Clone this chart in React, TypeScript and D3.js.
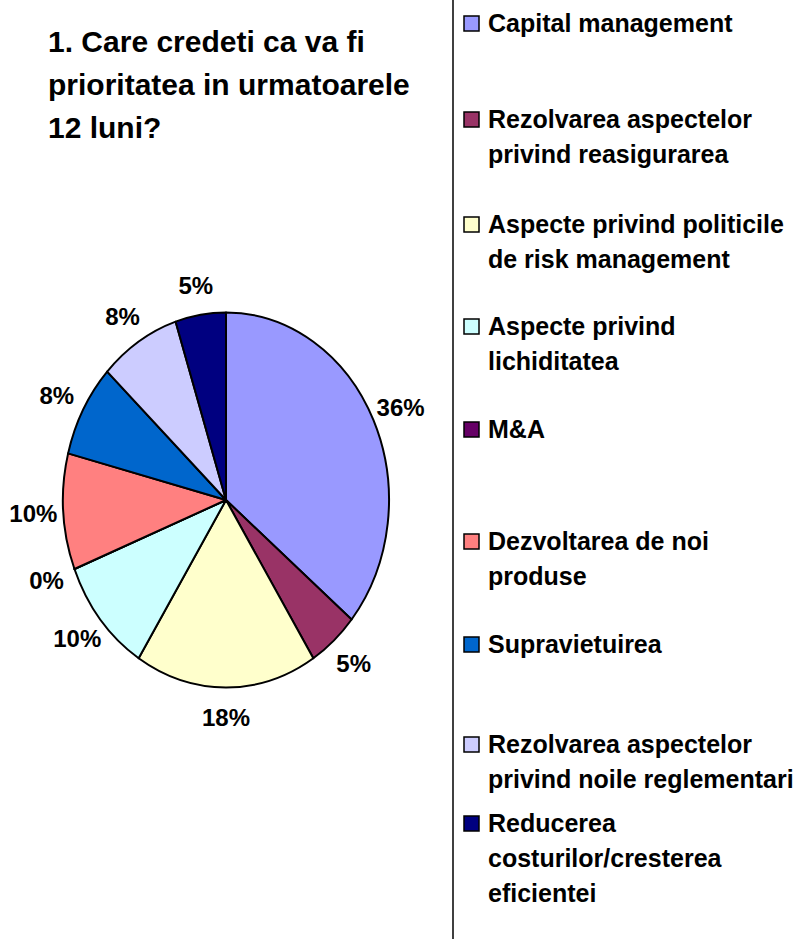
import React from "react";
import * as d3 from "d3";

const categories: string[][] = [
  ["Capital management"],
  ["Rezolvarea aspectelor", "privind reasigurarea"],
  ["Aspecte privind politicile", "de risk management"],
  ["Aspecte privind", "lichiditatea"],
  ["M&A"],
  ["Dezvoltarea de noi", "produse"],
  ["Supravietuirea"],
  ["Rezolvarea aspectelor", "privind noile reglementari"],
  ["Reducerea", "costurilor/cresterea", "eficientei"],
];
const values: number[] = [36, 5, 18, 10, 0, 10, 8, 8, 5];
const colors: string[] = [
  "#9999FF", "#993366", "#FFFFCC", "#CCFFFF", "#660066",
  "#FF8080", "#0066CC", "#CCCCFF", "#000080",
];
const titleLines: string[] = [
  "1. Care credeti ca va fi",
  "prioritatea in urmatoarele",
  "12 luni?",
];

// layout (not data)
const legendBaselines = [32, 128, 233, 335, 438, 550, 653, 753, 832];
const FONT = "'Liberation Sans', Arial, sans-serif";

export default function App() {
  const W = 803, H = 939;
  const cx = 226, cy = 500, rx = 163, ry = 187.5;
  const pie = d3.pie<number>().sort(null).value((d) => d);
  const arcs = pie(values);
  const arc = d3.arc<d3.PieArcDatum<number>>().innerRadius(0).outerRadius(rx);
  const off = 30;
  const total = d3.sum(values);

  return (
    <svg
      width={W}
      height={H}
      style={{ position: "absolute", left: 0, top: 0, background: "#fff" }}
      fontFamily={FONT}
    >
      <rect x={0} y={0} width={W} height={H} fill="#fff" />
      {titleLines.map((t, i) => (
        <text key={i} x={48} y={52 + i * 43} fontSize={30} fontWeight="bold" fill="#000">
          {t}
        </text>
      ))}
      <g transform={`translate(${cx},${cy}) scale(1,${ry / rx})`}>
        {arcs.map((a, i) => (
          <path
            key={i}
            d={arc(a) || ""}
            fill={colors[i]}
            stroke="#000"
            strokeWidth={2}
            vectorEffect="non-scaling-stroke"
            strokeLinejoin="round"
          />
        ))}
      </g>
      {arcs.map((a, i) => {
        const m = (a.startAngle + a.endAngle) / 2;
        const x = cx + (rx + off) * Math.sin(m);
        const y = cy - (ry + off) * Math.cos(m);
        return (
          <text
            key={i}
            x={x}
            y={y}
            fontSize={24}
            fontWeight="bold"
            textAnchor="middle"
            dominantBaseline="central"
            fill="#000"
          >
            {`${Math.round((values[i] / total) * 100)}%`}
          </text>
        );
      })}
      <line x1={453} y1={0} x2={453} y2={H} stroke="#000" strokeWidth={1.5} />
      {categories.map((lines, i) => {
        const b = legendBaselines[i];
        return (
          <g key={i}>
            <rect x={464} y={b - 16} width={15} height={15} fill={colors[i]} stroke="#000" strokeWidth={1.5} />
            {lines.map((l, j) => (
              <text key={j} x={488} y={b + j * 35} fontSize={25} fontWeight="bold" fill="#000">
                {l}
              </text>
            ))}
          </g>
        );
      })}
    </svg>
  );
}
